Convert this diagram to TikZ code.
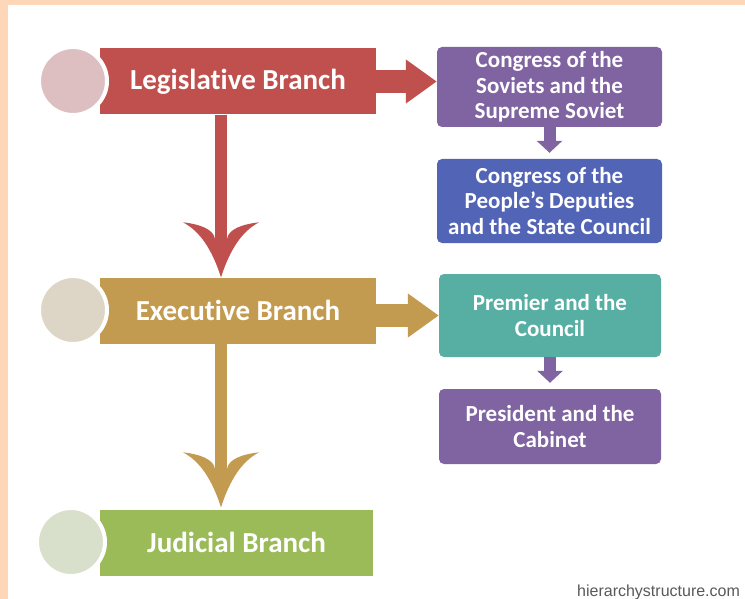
\documentclass[tikz,border=0pt]{standalone}
\usepackage{fontspec}
\setmainfont{Carlito}[Ligatures=NoCommon,RawFeature={-liga;-calt;-dlig}]
\newfontfamily\wmfont{Liberation Sans}
\usetikzlibrary{arrows.meta}
\definecolor{peach}{HTML}{FDD7B8}
\definecolor{legc}{HTML}{C0504D}
\definecolor{legdot}{HTML}{DDBFC2}
\definecolor{exec}{HTML}{C29B50}
\definecolor{execdot}{HTML}{DDD6C7}
\definecolor{judc}{HTML}{9BBB59}
\definecolor{juddot}{HTML}{D8DFCB}
\definecolor{boxp}{HTML}{8064A2}
\definecolor{boxb}{HTML}{5264B6}
\definecolor{boxt}{HTML}{57AFA3}
\begin{document}
\begin{tikzpicture}[x=1pt,y=-1pt,
  bar/.style={rectangle,minimum width=276pt,minimum height=66pt,inner sep=0pt,text=white,font=\fontsize{29}{32}\selectfont\bfseries},
  dot/.style={circle,minimum size=68pt,inner sep=0pt,draw=white,line width=4pt},
  box/.style={rectangle,rounded corners=5pt,minimum width=225pt,inner sep=0pt,text=white,align=center,font=\fontsize{23}{25.5}\selectfont\bfseries},
  bigright/.style={line width=23pt,-{Triangle[length=31pt,width=42pt]}},
  smalldown/.style={line width=12pt,-{Triangle[length=12pt,width=25pt]}},
  downhead/.pic={\fill (0,0) .. controls +(-9,-28) and +(17,9) .. ++(-38,-55) .. controls +(17,2) and +(-1,-10) .. ++(32,17) -- ++(12,0) .. controls +(1,-10) and +(-17,2) .. ++(32,-17) .. controls +(-17,9) and +(9,-28) .. (0,0) -- cycle;}]
\clip (0,0) rectangle (745,599);
\fill[peach] (0,0) rectangle (745,599);
\fill[white] (8,5) rectangle (745,599);
%branches
\node[bar,fill=legc] (leg) at (238,81.5) {Legislative Branch};
\node[dot,fill=legdot] (legdot) at (73,81) {};
\node[bar,fill=exec] (exe) at (238,310.5) {Executive Branch};
\node[dot,fill=execdot] (exedot) at (73,310) {};
\node[bar,fill=judc,minimum width=273pt] (jud) at (236.5,542.5) {Judicial Branch};
\node[dot,fill=juddot] (juddot) at (71,542) {};
%bodies
\node[box,fill=boxp,minimum height=80pt] (sov) at (549.5,87) {Congress of the\\Soviets and the\\Supreme Soviet};
\node[box,fill=boxb,minimum height=84pt] (dep) at (549.5,201) {Congress of the\\People’s Deputies\\and the State Council};
\node[box,fill=boxt,minimum width=222pt,minimum height=83pt] (prem) at (550,315.5) {Premier and the\\Council};
\node[box,fill=boxp,minimum width=222pt,minimum height=75pt] (pres) at (550,426.5) {President and the\\Cabinet};
%arrows down the branches
\draw[legc,line width=12pt] ([xshift=-17pt]leg.south) -- ([xshift=-17pt,yshift=36pt]exe.north);
\pic[legc] at ([xshift=-17pt]exe.north) {downhead};
\draw[exec,line width=12pt] ([xshift=-17pt]exe.south) -- ([xshift=-15.5pt,yshift=38pt]jud.north);
\pic[exec] at ([xshift=-15.5pt,yshift=2pt]jud.north) {downhead};
%arrows to the bodies
\draw[bigright,legc] (leg.east) -- (leg.east -| sov.west);
\draw[bigright,exec] (exe.east |- prem.west) -- (prem.west);
\draw[smalldown,boxp] (sov.south) -- ([yshift=6pt]dep.north);
\draw[smalldown,boxp] (prem.south) -- ([yshift=6pt]pres.north);
\node[anchor=base west,inner sep=0pt,text=black!65,font=\wmfont\fontsize{16}{18}\selectfont] (wm) at (577,596) {hierarchystructure.com};
\end{tikzpicture}
\end{document}
